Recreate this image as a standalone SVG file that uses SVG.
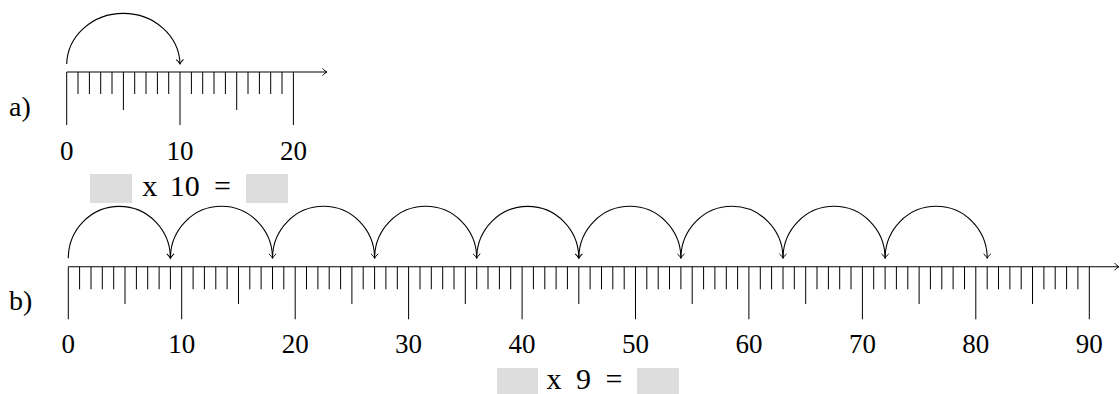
<svg xmlns="http://www.w3.org/2000/svg" width="1120" height="394" viewBox="0 0 1120 394">
<style>
.ax{stroke:#000;stroke-width:1.1;fill:none}
.tk{stroke:#000;stroke-width:1;fill:none}
.arc{stroke:#000;stroke-width:1.1;fill:none;marker-end:url(#to)}
.lbl{font-family:"Liberation Serif","DejaVu Serif",serif;font-size:27px;fill:#000;text-anchor:middle}
.eq{font-family:"Liberation Serif","DejaVu Serif",serif;font-size:30px;fill:#000;text-anchor:middle}
.part{font-family:"Liberation Serif","DejaVu Serif",serif;font-size:28px;fill:#000}
.box{fill:#dddddd}
</style>
<defs>
<marker id="to" markerUnits="userSpaceOnUse" markerWidth="12" markerHeight="12" viewBox="-6 -6 12 12" refX="0" refY="0" orient="auto" overflow="visible">
<path d="M-4.5,-3.6 C-2.8,-1.6 -0.8,-0.4 0,0 C-0.8,0.4 -2.8,1.6 -4.5,3.6" stroke="#000" stroke-width="1" fill="none"/>
</marker>
</defs>

<g id="part-a">
<text class="part" x="9" y="116">a)</text>
<g id="axis-a">
<path class="ax" d="M66.7,72 H327" marker-end="url(#to)"/>
<path class="tk" d="M78,72V94M89.4,72V94M100.7,72V94M112,72V94M134.7,72V94M146,72V94M157.4,72V94M168.7,72V94M191.4,72V94M202.7,72V94M214,72V94M225.4,72V94M248,72V94M259.4,72V94M270.7,72V94M282,72V94"/>
<path class="tk" d="M123.4,72V110M236.7,72V110"/>
<path class="tk" d="M66.7,72V125M180,72V125M293.4,72V125"/>
</g>
<g id="labels-a">
<text class="lbl" x="66.7" y="160">0</text>
<text class="lbl" x="180" y="160">10</text>
<text class="lbl" x="293.4" y="160">20</text>
</g>
<g id="jumps-a">
<path class="arc" d="M66.7,64 A56.67,52 0 0 1 180,64"/>
</g>
<g id="equation-a">
<rect class="box" x="90" y="174" width="42" height="29"/>
<text class="eq" x="149.7" y="196">x</text>
<text class="eq" x="184.7" y="196">10</text>
<text class="eq" x="222.5" y="196">=</text>
<rect class="box" x="246" y="174" width="42" height="29"/>
</g>
</g>

<g id="part-b">
<text class="part" x="9" y="310">b)</text>
<g id="axis-b">
<path class="ax" d="M68.3,266.7 H1119" marker-end="url(#to)"/>
<path class="tk" d="M79.6,266.7V289.3M91,266.7V289.3M102.3,266.7V289.3M113.7,266.7V289.3M136.4,266.7V289.3M147.7,266.7V289.3M159.1,266.7V289.3M170.4,266.7V289.3M193.1,266.7V289.3M204.4,266.7V289.3M215.8,266.7V289.3M227.1,266.7V289.3M249.8,266.7V289.3M261.1,266.7V289.3M272.5,266.7V289.3M283.8,266.7V289.3M306.5,266.7V289.3M317.9,266.7V289.3M329.2,266.7V289.3M340.6,266.7V289.3M363.2,266.7V289.3M374.6,266.7V289.3M385.9,266.7V289.3M397.3,266.7V289.3M420,266.7V289.3M431.3,266.7V289.3M442.7,266.7V289.3M454,266.7V289.3M476.7,266.7V289.3M488,266.7V289.3M499.4,266.7V289.3M510.7,266.7V289.3M533.4,266.7V289.3M544.8,266.7V289.3M556.1,266.7V289.3M567.4,266.7V289.3M590.1,266.7V289.3M601.5,266.7V289.3M612.8,266.7V289.3M624.2,266.7V289.3M646.8,266.7V289.3M658.2,266.7V289.3M669.5,266.7V289.3M680.9,266.7V289.3M703.6,266.7V289.3M714.9,266.7V289.3M726.3,266.7V289.3M737.6,266.7V289.3M760.3,266.7V289.3M771.6,266.7V289.3M783,266.7V289.3M794.3,266.7V289.3M817,266.7V289.3M828.4,266.7V289.3M839.7,266.7V289.3M851,266.7V289.3M873.7,266.7V289.3M885.1,266.7V289.3M896.4,266.7V289.3M907.8,266.7V289.3M930.4,266.7V289.3M941.8,266.7V289.3M953.1,266.7V289.3M964.5,266.7V289.3M987.2,266.7V289.3M998.5,266.7V289.3M1009.9,266.7V289.3M1021.2,266.7V289.3M1043.9,266.7V289.3M1055.2,266.7V289.3M1066.6,266.7V289.3M1077.9,266.7V289.3"/>
<path class="tk" d="M125,266.7V304M238.5,266.7V304M351.9,266.7V304M465.3,266.7V304M578.8,266.7V304M692.2,266.7V304M805.7,266.7V304M919.1,266.7V304M1032.5,266.7V304"/>
<path class="tk" d="M68.3,266.7V319.3M181.7,266.7V319.3M295.2,266.7V319.3M408.6,266.7V319.3M522.1,266.7V319.3M635.5,266.7V319.3M748.9,266.7V319.3M862.4,266.7V319.3M975.8,266.7V319.3M1089.3,266.7V319.3"/>
</g>
<g id="labels-b">
<text class="lbl" x="68.3" y="353">0</text>
<text class="lbl" x="181.7" y="353">10</text>
<text class="lbl" x="295.2" y="353">20</text>
<text class="lbl" x="408.6" y="353">30</text>
<text class="lbl" x="522.1" y="353">40</text>
<text class="lbl" x="635.5" y="353">50</text>
<text class="lbl" x="748.9" y="353">60</text>
<text class="lbl" x="862.4" y="353">70</text>
<text class="lbl" x="975.8" y="353">80</text>
<text class="lbl" x="1089.3" y="353">90</text>
</g>
<g id="jumps-b">
<path class="arc" d="M68.3,258.3 A51.05,52 0 0 1 170.4,258.3"/>
<path class="arc" d="M170.4,258.3 A51.05,52 0 0 1 272.5,258.3"/>
<path class="arc" d="M272.5,258.3 A51.05,52 0 0 1 374.6,258.3"/>
<path class="arc" d="M374.6,258.3 A51.05,52 0 0 1 476.7,258.3"/>
<path class="arc" d="M476.7,258.3 A51.05,52 0 0 1 578.8,258.3"/>
<path class="arc" d="M578.8,258.3 A51.05,52 0 0 1 680.9,258.3"/>
<path class="arc" d="M680.9,258.3 A51.05,52 0 0 1 783,258.3"/>
<path class="arc" d="M783,258.3 A51.05,52 0 0 1 885.1,258.3"/>
<path class="arc" d="M885.1,258.3 A51.05,52 0 0 1 987.2,258.3"/>
</g>
<g id="equation-b">
<rect class="box" x="497" y="368" width="41" height="29"/>
<text class="eq" x="554" y="389">x</text>
<text class="eq" x="583.5" y="389">9</text>
<text class="eq" x="614" y="389">=</text>
<rect class="box" x="637" y="368" width="42" height="29"/>
</g>
</g>
</svg>
